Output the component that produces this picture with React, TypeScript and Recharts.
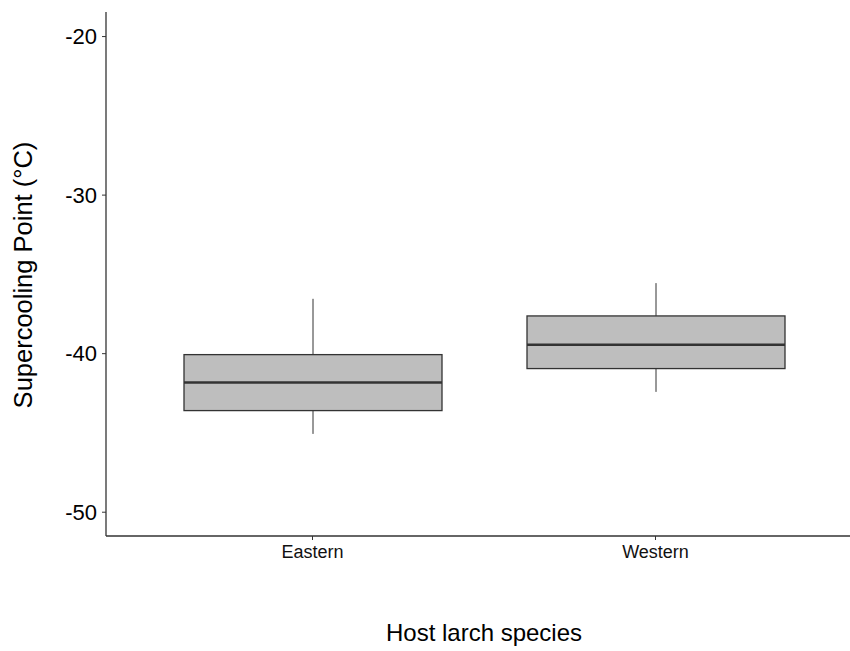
import {ComposedChart, Bar, XAxis, YAxis, Label} from 'recharts';

// host larch species and the box statistics (°C)
const species = ['Eastern', 'Western'];
const whiskerLow = [-45.06, -42.41];
const q1 = [-43.59, -40.94];
const median = [-41.82, -39.44];
const q3 = [-40.06, -37.62];
const whiskerHigh = [-36.54, -35.55];

const yTicks = [-50, -40, -30, -20];

const chartData = species.map((name, i) => ({
    name,
    lo: whiskerLow[i],
    q1: q1[i],
    med: median[i],
    q3: q3[i],
    hi: whiskerHigh[i],
    box: [q1[i], q3[i]],
}));

const FONT = '"Liberation Sans", Arial, sans-serif';
const LINE = '#333333';

// box + whiskers + median, pixel scale taken from the bar the library placed
const BoxShape = (props: any) => {
    const {x, width, payload} = props;
    const top = Math.min(props.y, props.y + props.height);
    const h = Math.abs(props.height);
    const k = h / (payload.q3 - payload.q1);
    const cx = x + width / 2;
    const yHi = top - (payload.hi - payload.q3) * k;
    const yLo = top + h + (payload.q1 - payload.lo) * k;
    const yMed = top + (payload.q3 - payload.med) * k;
    return (
        <g>
            <line x1={cx} x2={cx} y1={yHi} y2={top} stroke={LINE} strokeWidth={1}/>
            <line x1={cx} x2={cx} y1={top + h} y2={yLo} stroke={LINE} strokeWidth={1}/>
            <rect x={x} y={top} width={width} height={h} fill="#BEBEBE" stroke={LINE} strokeWidth={1.3}/>
            <line x1={x} x2={x + width} y1={yMed} y2={yMed} stroke={LINE} strokeWidth={2.6}/>
        </g>
    );
};

const YTitle = (props: any) => {
    const vb = props.viewBox;
    const x = vb.x + 32;
    const y = vb.y + vb.height / 2 + 1;
    return (
        <text x={x} y={y} transform={`rotate(-90, ${x}, ${y})`} textAnchor="middle"
              fontSize={25.5} fontFamily={FONT} fill="#000">
            Supercooling Point (°C)
        </text>
    );
};

const XTitle = (props: any) => {
    const vb = props.viewBox;
    return (
        <text x={vb.x + vb.width / 2} y={641} textAnchor="middle" fontSize={24} fontFamily={FONT} fill="#000">
            Host larch species
        </text>
    );
};

export default function App() {
    return (
        <div style={{position: 'fixed', top: 0, left: 0, width: 850, height: 651, overflow: 'hidden', background: '#fff'}}>
            <ComposedChart width={862} height={651} data={chartData}
                           margin={{top: 12, right: 0, bottom: 0, left: 0}}>
                <XAxis dataKey="name" type="category" height={115}
                       padding={{left: 35, right: 35}}
                       axisLine={{stroke: LINE, strokeWidth: 1.3}}
                       tickLine={{stroke: LINE}} tickSize={4} tickMargin={5}
                       tick={{fontSize: 18, fill: '#111', fontFamily: FONT}}>
                    <Label content={<XTitle/>}/>
                </XAxis>
                <YAxis type="number" width={106} domain={[-51.5, -18.45]} ticks={yTicks}
                       allowDataOverflow
                       axisLine={{stroke: LINE, strokeWidth: 1.3}}
                       tickLine={{stroke: LINE}} tickSize={4} tickMargin={5}
                       tick={{fontSize: 22, fill: '#000', fontFamily: FONT}}>
                    <Label content={<YTitle/>}/>
                </YAxis>
                <Bar dataKey="box" barSize={258} shape={<BoxShape/>} isAnimationActive={false}/>
            </ComposedChart>
        </div>
    );
}
